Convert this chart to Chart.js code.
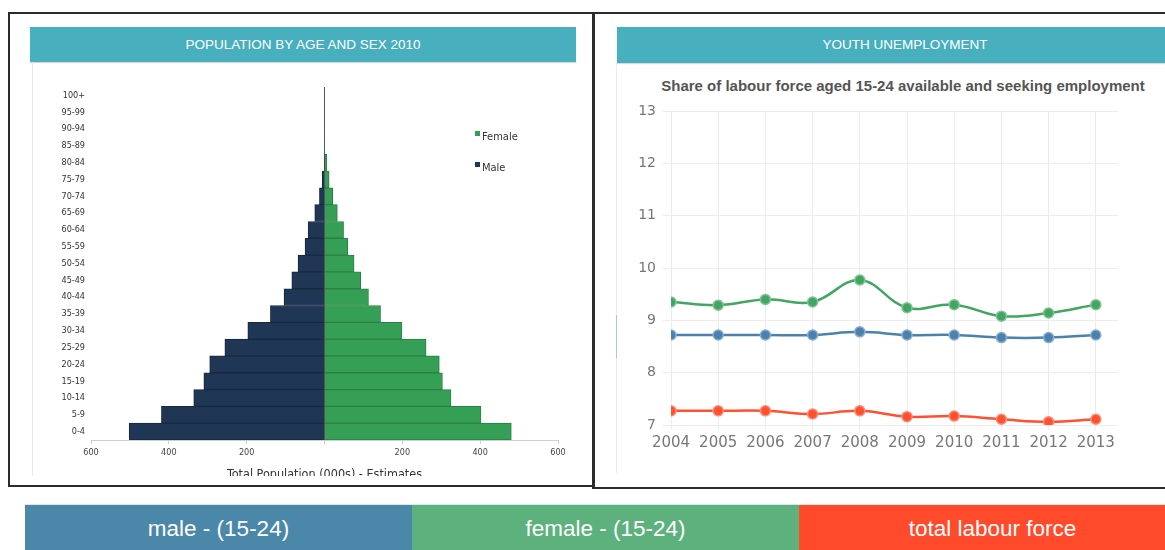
<!DOCTYPE html>
<html>
<head>
<meta charset="utf-8">
<script src="https://cdn.jsdelivr.net/npm/chart.js@4/dist/chart.umd.min.js"></script>
<style>
  body { margin: 0; width: 1165px; height: 550px; overflow: hidden; background: #fff;
         font-family: "Liberation Sans", Arial, sans-serif; position: relative; }
  .abs { position: absolute; }
  .box { border: 2px solid #2b2b2b; box-sizing: border-box; }
  .head { background: #48afbe; color: #fff; font-size: 13.5px; text-align: center;
          box-shadow: 0 1px 1px rgba(0,0,0,0.15); }
  .clip { overflow: hidden; }
  .leg { font-family: "Liberation Sans Narrow", "DejaVu Sans Condensed", sans-serif; font-size: 11px; color: #333; }
  .leg i { position: absolute; left: -7px; top: 1px; width: 5px; height: 5px; }
  .band { color: #fff; font-size: 22.5px; text-align: center; line-height: 48px; height: 45px; top: 505px; width: 387px; overflow: hidden; }
  .sub { color: #555; font-weight: bold; font-size: 15px; text-align: center; white-space: nowrap; }
</style>
</head>
<body>
  <div class="abs box" style="left:8px;top:12px;width:587px;height:475px"></div>
  <div class="abs box" style="left:592px;top:12px;width:600px;height:477px"></div>

  <div class="abs head" style="left:30px;top:27px;width:546px;height:35px;line-height:35px">POPULATION BY AGE AND SEX 2010</div>
  <div class="abs head" style="left:617px;top:27px;width:576px;height:36px;line-height:36px">YOUTH UNEMPLOYMENT</div>

  <div class="abs" style="left:32px;top:62px;width:1px;height:414px;background:#e8e8e8"></div>
  <div class="abs" style="left:616px;top:63px;width:1px;height:410px;background:#ececec"></div>
  <div class="abs" style="left:616px;top:315px;width:1px;height:43px;background:#a9c6da"></div>

  <div class="abs clip" style="left:30px;top:62px;width:546px;height:414px">
    <canvas id="pyramid" width="546" height="420"></canvas>
  </div>
  <div class="abs leg" style="left:482px;top:130px"><i style="background:#35a055"></i>Female</div>
  <div class="abs leg" style="left:482px;top:161px"><i style="background:#1f3654"></i>Male</div>

  <div class="abs sub" style="left:603px;top:77px;width:600px">Share of labour force aged 15-24 available and seeking employment</div>
  <div class="abs" style="left:617px;top:63px;width:576px;height:400px">
    <canvas id="youth" width="576" height="400"></canvas>
  </div>

  <div class="abs" style="left:25px;top:504px;width:1140px;height:1px;background:#dfe6ea"></div>
  <div class="abs band" style="left:25px;background:#4b87a9">male - (15-24)</div>
  <div class="abs band" style="left:412px;background:#5db17d">female - (15-24)</div>
  <div class="abs band" style="left:799px;background:#ff4a2b">total labour force</div>

<script>
// --- pyramid data (thousands) ---
const ageGroups = ["0-4", "5-9", "10-14", "15-19", "20-24", "25-29", "30-34", "35-39", "40-44", "45-49",
  "50-54", "55-59", "60-64", "65-69", "70-74", "75-79", "80-84", "85-89", "90-94", "95-99", "100+"];
const maleValues = [502, 419, 336, 310, 295, 256, 197, 139, 104, 84, 68, 50, 42, 25, 13, 6, 1, 0, 0, 0, 0];
const femaleValues = [480, 402, 325, 303, 295, 261, 199, 144, 113, 93, 76, 60, 49, 33, 21, 12, 6, 1, 0, 0, 0];
const popTicks = [-600, -400, -200, 0, 200, 400, 600];

// --- youth unemployment (%) ---
const years = [2004, 2005, 2006, 2007, 2008, 2009, 2010, 2011, 2012, 2013];
const maleYouth = [8.72, 8.72, 8.72, 8.72, 8.78, 8.72, 8.72, 8.67, 8.67, 8.72];
const femaleYouth = [9.35, 9.29, 9.40, 9.35, 9.77, 9.24, 9.30, 9.08, 9.14, 9.30];
const totalLabour = [7.27, 7.27, 7.27, 7.21, 7.27, 7.16, 7.17, 7.11, 7.06, 7.11];

const narrow = "'Liberation Sans Narrow', 'DejaVu Sans Condensed', sans-serif";

new Chart(document.getElementById("pyramid"), {
  type: "bar",
  data: {
    labels: ageGroups,
    datasets: [
      { label: "Male", data: maleValues.map((v) => -v), backgroundColor: "#1f3654",
        borderColor: "#17283f", borderWidth: 1 },
      { label: "Female", data: femaleValues, backgroundColor: "#35a055",
        borderColor: "#2a8044", borderWidth: 1 }
    ]
  },
  options: {
    indexAxis: "y", responsive: false, animation: false,
    layout: { padding: { top: 25, right: 18, left: 0, bottom: 0 } },
    datasets: { bar: { barPercentage: 1.0, categoryPercentage: 1.0 } },
    plugins: { legend: { display: false }, tooltip: { enabled: false } },
    scales: {
      y: {
        stacked: true, reverse: true,
        afterFit: (s) => { s.width = 61; },
        grid: { display: false, drawTicks: false }, border: { display: false },
        ticks: { padding: 6, color: "#333", font: { family: narrow, size: 9 } }
      },
      x: {
        stacked: true, min: -600, max: 600,
        afterBuildTicks: (s) => { s.ticks = popTicks.map((v) => ({ value: v })); },
        afterFit: (s) => { s.height = 42; },
        border: { color: "#cfcfcf" },
        grid: {
          color: (ctx) => (ctx.tick && ctx.tick.value === 0 ? "#555" : "rgba(0,0,0,0)"),
          tickColor: "#cfcfcf", tickLength: 4
        },
        ticks: {
          padding: 3, color: "#444", font: { family: narrow, size: 9 },
          callback: (v) => (v === 0 ? "" : Math.abs(v))
        },
        title: { display: true, text: "Total Population (000s) - Estimates", color: "#333",
                 font: { family: narrow, size: 12.5 }, padding: { top: 0, bottom: 0 } }
      }
    }
  }
});

const ds = (data, color, halo) => ({
  data: years.map((y, i) => ({ x: y, y: data[i] })),
  borderColor: color, backgroundColor: color, borderWidth: 2.5, tension: 0.4,
  pointRadius: 5, pointBackgroundColor: color, pointBorderColor: halo, pointBorderWidth: 1.5
});

new Chart(document.getElementById("youth"), {
  type: "line",
  data: {
    datasets: [
      ds(femaleYouth, "#43a562", "#80c397"),
      ds(maleYouth, "#4a82ad", "#88add0"),
      ds(totalLabour, "#ff5030", "#ff8c74")
    ]
  },
  options: {
    responsive: false, animation: false,
    layout: { padding: { top: 48, right: 75, left: 0, bottom: 0 } },
    plugins: { legend: { display: false }, tooltip: { enabled: false } },
    scales: {
      x: {
        type: "linear", min: 2004, max: 2013.47,
        afterBuildTicks: (s) => { s.ticks = years.map((v) => ({ value: v })); },
        afterFit: (s) => { s.height = 38; },
        border: { display: false },
        grid: { color: "#ececec", tickLength: 5 },
        ticks: { autoSkip: false, maxRotation: 0, padding: 4, color: "#777",
                 font: { family: "'DejaVu Sans', sans-serif", size: 15 },
                 callback: (v) => String(v) }
      },
      y: {
        min: 7, max: 13,
        afterFit: (s) => { s.width = 54; },
        border: { display: false },
        grid: { color: "#ececec", tickLength: 8 },
        ticks: { stepSize: 1, padding: 7, color: "#777", font: { family: "'DejaVu Sans', sans-serif", size: 14 } }
      }
    }
  }
});
</script>
</body>
</html>
